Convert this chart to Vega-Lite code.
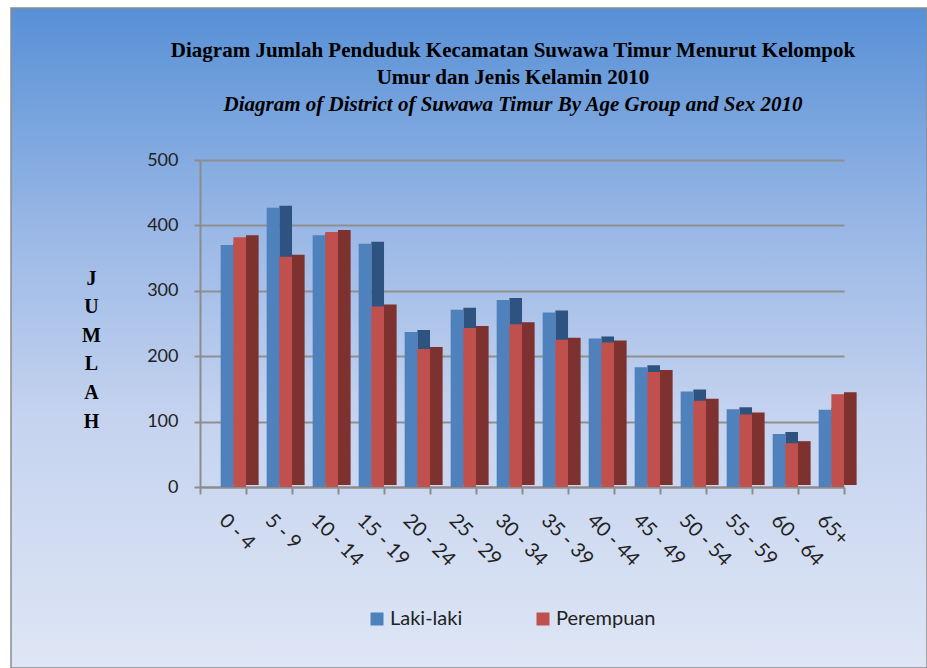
{
  "$schema": "https://vega.github.io/schema/vega-lite/v6.json",
  "width": 916,
  "height": 660,
  "autosize": {"type": "none"},
  "padding": {"left": 11, "top": 8, "right": 0, "bottom": 0},
  "background": "white",
  "config": {
    "view": {
      "fill": {"gradient": "linear", "x1": 0, "y1": 0, "x2": 0, "y2": 1,
        "stops": [
          {"offset": 0, "color": "#5790D6"},
          {"offset": 0.35, "color": "#9CB9E6"},
          {"offset": 0.62, "color": "#C5D3EF"},
          {"offset": 1, "color": "#DEE6F5"}
        ]},
      "stroke": "#8c8c8c",
      "strokeWidth": 1.5
    },
    "font": "Lato"
  },
  "title": {
    "text": ["Diagram Jumlah Penduduk Kecamatan Suwawa Timur Menurut Kelompok", "Umur dan Jenis Kelamin 2010"],
    "subtitle": "Diagram of District of Suwawa Timur By Age Group and Sex 2010",
    "font": "Liberation Serif",
    "fontSize": 21,
    "fontWeight": "bold",
    "color": "black",
    "lineHeight": 27,
    "subtitleFont": "Liberation Serif",
    "subtitleFontSize": 21,
    "subtitleFontStyle": "italic",
    "subtitleFontWeight": "bold",
    "subtitleColor": "black",
    "subtitlePadding": 6,
    "anchor": "middle",
    "frame": "group",
    "offset": -107,
    "dx": 44
  },
  "data": {
    "values": [
      {"age": "0 - 4", "sex": "Laki-laki", "value": 370},
      {"age": "0 - 4", "sex": "Perempuan", "value": 382},
      {"age": "5 - 9", "sex": "Laki-laki", "value": 427},
      {"age": "5 - 9", "sex": "Perempuan", "value": 352},
      {"age": "10 - 14", "sex": "Laki-laki", "value": 385},
      {"age": "10 - 14", "sex": "Perempuan", "value": 390},
      {"age": "15 - 19", "sex": "Laki-laki", "value": 372},
      {"age": "15 - 19", "sex": "Perempuan", "value": 276},
      {"age": "20 - 24", "sex": "Laki-laki", "value": 237},
      {"age": "20 - 24", "sex": "Perempuan", "value": 211},
      {"age": "25 - 29", "sex": "Laki-laki", "value": 271},
      {"age": "25 - 29", "sex": "Perempuan", "value": 243},
      {"age": "30 - 34", "sex": "Laki-laki", "value": 286},
      {"age": "30 - 34", "sex": "Perempuan", "value": 249},
      {"age": "35 - 39", "sex": "Laki-laki", "value": 267},
      {"age": "35 - 39", "sex": "Perempuan", "value": 225},
      {"age": "40 - 44", "sex": "Laki-laki", "value": 227},
      {"age": "40 - 44", "sex": "Perempuan", "value": 221},
      {"age": "45 - 49", "sex": "Laki-laki", "value": 183},
      {"age": "45 - 49", "sex": "Perempuan", "value": 176},
      {"age": "50 - 54", "sex": "Laki-laki", "value": 146},
      {"age": "50 - 54", "sex": "Perempuan", "value": 132},
      {"age": "55 - 59", "sex": "Laki-laki", "value": 119},
      {"age": "55 - 59", "sex": "Perempuan", "value": 111},
      {"age": "60 - 64", "sex": "Laki-laki", "value": 81},
      {"age": "60 - 64", "sex": "Perempuan", "value": 67},
      {"age": "65+", "sex": "Laki-laki", "value": 118},
      {"age": "65+", "sex": "Perempuan", "value": 142}
    ]
  },
  "encoding": {
    "x": {
      "field": "age", "type": "nominal", "sort": null,
      "scale": {"range": [189, 833], "paddingInner": 0, "paddingOuter": 0},
      "axis": {
        "offset": -181, "tickBand": "extent", "labelAngle": 45,
        "labelAlign": "left", "labelBaseline": "top", "labelOffset": 6,
        "labelFont": "Lato", "labelFontSize": 20, "labelColor": "#222222",
        "labelPadding": 16, "tickSize": 7, "tickColor": "#8c8c8c", "tickWidth": 2,
        "domainColor": "#8c8c8c", "domainWidth": 2, "title": null, "grid": false
      }
    },
    "y": {
      "field": "value", "type": "quantitative",
      "scale": {"domain": [0, 500], "range": [479, 152], "nice": false, "zero": true},
      "axis": {
        "values": [0, 100, 200, 300, 400, 500], "offset": -189,
        "domainColor": "#8c8c8c", "domainWidth": 2, "tickColor": "#8c8c8c", "tickWidth": 2, "tickSize": 6,
        "labelFont": "Lato", "labelFontSize": 18, "labelColor": "#222222", "labelPadding": 16,
        "grid": true, "gridColor": "#8f8f8f", "gridWidth": 2,
        "title": ["J", "U", "M", "L", "A", "H"], "titleAngle": 0,
        "titleFont": "Liberation Serif", "titleFontSize": 20, "titleFontWeight": "bold",
        "titleLineHeight": 28.6, "titleX": -109, "titleY": 260, "titleAlign": "center",
        "titleBaseline": "top", "titleColor": "black"
      }
    },
    "color": {
      "field": "sex", "type": "nominal",
      "scale": {"domain": ["Laki-laki", "Perempuan"], "range": ["#4F81BD", "#C0504D"]},
      "legend": {
        "orient": "none", "legendX": 356, "legendY": 601, "direction": "horizontal",
        "title": null, "symbolType": "square", "symbolSize": 169, "symbolStrokeWidth": 0,
        "labelFont": "Lato", "labelFontSize": 20, "labelColor": "#222222",
        "columnPadding": 70, "labelOffset": 3
      }
    }
  },
  "layer": [
    {
      "transform": [{"filter": "datum.sex == 'Laki-laki'"}],
      "mark": {"type": "bar", "width": 12.65, "xOffset": 16.7, "yOffset": -2, "fill": "#2F5381"}
    },
    {
      "transform": [{"filter": "datum.sex == 'Perempuan'"}],
      "mark": {"type": "bar", "width": 12.65, "xOffset": 29.3, "yOffset": -2, "fill": "#7D322F"}
    },
    {
      "transform": [{"filter": "datum.sex == 'Laki-laki'"}],
      "mark": {"type": "bar", "width": 12.65, "xOffset": 4}
    },
    {
      "transform": [{"filter": "datum.sex == 'Perempuan'"}],
      "mark": {"type": "bar", "width": 12.65, "xOffset": 16.7}
    }
  ]
}
